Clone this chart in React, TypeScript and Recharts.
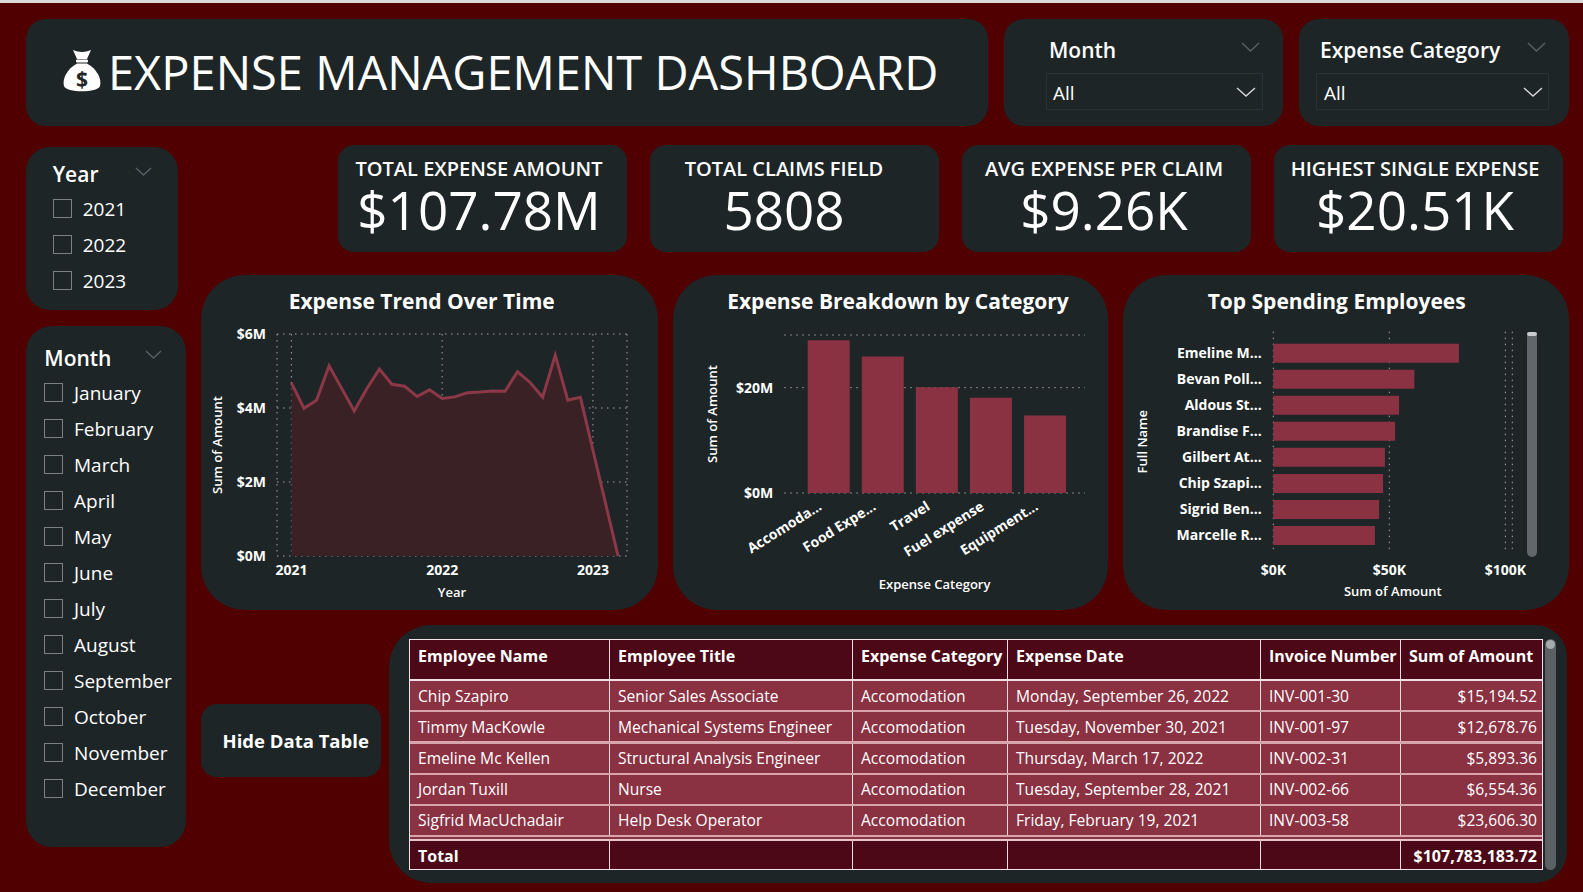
import React from 'react';
import { AreaChart, Area, BarChart, Bar, XAxis, YAxis, CartesianGrid, Label } from 'recharts';

// ---- data ----
const trendPeriods = [
  '2021-01', '2021-02', '2021-03', '2021-04', '2021-05', '2021-06',
  '2021-07', '2021-08', '2021-09', '2021-10', '2021-11', '2021-12',
  '2022-01', '2022-02', '2022-03', '2022-04', '2022-05', '2022-06',
  '2022-07', '2022-08', '2022-09', '2022-10', '2022-11', '2022-12',
  '2023-03',
];
const trendAmounts = [
  4680000, 3990000, 4210000, 5140000, 4530000, 3920000,
  4520000, 5050000, 4640000, 4590000, 4310000, 4490000,
  4260000, 4300000, 4410000, 4430000, 4460000, 4450000,
  4980000, 4690000, 4290000, 5430000, 4210000, 4290000,
  0,
];
const trendYearTicks = [2021, 2022, 2023];
const trendAmountTicks = [0, 2000000, 4000000, 6000000];

const categoryLabels = ['Accomoda...', 'Food Expe...', 'Travel', 'Fuel expense', 'Equipment...'];
const categoryAmounts = [29000000, 25900000, 20100000, 18100000, 14700000];
const categoryTicks = [0, 20000000];

const employeeLabels = [
  'Emeline M...', 'Bevan Poll...', 'Aldous St...', 'Brandise F...',
  'Gilbert At...', 'Chip Szapi...', 'Sigrid Ben...', 'Marcelle R...',
];
const employeeAmounts = [80000, 60800, 54200, 52500, 48100, 47300, 45600, 43800];
const employeeTicks = [0, 50000, 100000];

const kpiTitles = ['TOTAL EXPENSE AMOUNT', 'TOTAL CLAIMS FIELD', 'AVG EXPENSE PER CLAIM', 'HIGHEST SINGLE EXPENSE'];
const kpiValues = ['$107.78M', '5808', '$9.26K', '$20.51K'];

const yearOptions = ['2021', '2022', '2023'];
const monthOptions = [
  'January', 'February', 'March', 'April', 'May', 'June',
  'July', 'August', 'September', 'October', 'November', 'December',
];

const tableHeaders = ['Employee Name', 'Employee Title', 'Expense Category', 'Expense Date', 'Invoice Number', 'Sum of Amount'];
const tableNames = ['Chip Szapiro', 'Timmy MacKowle', 'Emeline Mc Kellen', 'Jordan Tuxill', 'Sigfrid MacUchadair'];
const tableTitles = ['Senior Sales Associate', 'Mechanical Systems Engineer', 'Structural Analysis Engineer', 'Nurse', 'Help Desk Operator'];
const tableCategories = ['Accomodation', 'Accomodation', 'Accomodation', 'Accomodation', 'Accomodation'];
const tableDates = [
  'Monday, September 26, 2022', 'Tuesday, November 30, 2021', 'Thursday, March 17, 2022',
  'Tuesday, September 28, 2021', 'Friday, February 19, 2021',
];
const tableInvoices = ['INV-001-30', 'INV-001-97', 'INV-002-31', 'INV-002-66', 'INV-003-58'];
const tableAmounts = ['$15,194.52', '$12,678.76', '$5,893.36', '$6,554.36', '$23,606.30'];
const tableTotal = '$107,783,183.72';

// ---- look ----
const BG = '#500001';
const CARD = '#1e2527';
const BAR = '#8a3142';
const LINE = '#8c3848';
const AREA = '#3a2125';
const GRID = '#a5a5a5';
const FAINT = '#596063';
const HEAD = '#4c0816';
const FONT = "'Open Sans', 'Noto Sans', sans-serif";

const trendData = trendPeriods.map((p, i) => {
  const [y, m] = p.split('-').map(Number);
  return { t: y + (m - 1) / 12, amount: trendAmounts[i] };
});
const categoryData = categoryLabels.map((name, i) => ({ name, amount: categoryAmounts[i] }));
const employeeData = employeeLabels.map((name, i) => ({ name, amount: employeeAmounts[i] }));

const tickStyle = { fill: '#ffffff', fontSize: 14, fontWeight: 700, fontFamily: FONT };
const axisTitle = { fill: '#ffffff', fontSize: 13, fontWeight: 600, fontFamily: FONT };
const millions = (v: number) => `$${v / 1000000}M`;
const thousands = (v: number) => `$${v / 1000}K`;

const Box = ({ x, y, w, h, r, children }: any) => (
  <div style={{ position: 'absolute', left: x, top: y, width: w, height: h, borderRadius: r, background: CARD }}>{children}</div>
);

const Txt = ({ x, cy, size, weight = 400, w, align = 'left', color = '#ffffff', children }: any) => (
  <div
    style={{
      position: 'absolute', left: align === 'center' ? x - w / 2 : x, top: cy - size * 0.53,
      width: w, textAlign: align, fontSize: size, fontWeight: weight, lineHeight: 1, color, whiteSpace: 'nowrap',
    }}
  >
    {children}
  </div>
);

const Chevron = ({ x, y, w, h, color }: any) => (
  <svg style={{ position: 'absolute', left: x, top: y }} width={w} height={h}>
    <polyline points={`1,1 ${w / 2},${h - 1} ${w - 1},1`} fill="none" stroke={color} strokeWidth={1.4} />
  </svg>
);

const Check = ({ x, y }: any) => (
  <div style={{ position: 'absolute', left: x, top: y, width: 19, height: 19, boxSizing: 'border-box', border: '1.5px solid #7b8083' }} />
);

const MoneyBag = () => (
  <svg style={{ position: 'absolute', left: 62, top: 49 }} width={40} height={45} viewBox="0 0 40 45">
    <path d="M11 1 Q20 5 29 1 L25 10 L15 10 Z" fill="#fff" />
    <rect x={14} y={10.5} width={12} height={3} rx={1.2} fill="#fff" />
    <path d="M15 14.5 C5 20 0 30 2 37 C4 44 36 44 38 37 C40 30 35 20 25 14.5 Z" fill="#fff" />
    <text x={20} y={38} textAnchor="middle" fontSize={21} fontWeight={700} fontFamily={FONT} fill={CARD}>$</text>
  </svg>
);

const CategoryTick = ({ x, y, payload }: any) => (
  <g transform={`translate(${x - 6},${y + 16})`}>
    <text textAnchor="end" transform="rotate(-32)" style={tickStyle} fontSize={13} fill="#ffffff">
      {payload.value}
    </text>
  </g>
);

const colWidths = [200, 243, 155, 253, 140, 144];

const Row = ({ cells, top, h, bg, bold, headerRow }: any) => (
  <div style={{ position: 'absolute', left: 0, top, height: h, display: 'flex', background: bg }}>
    {cells.map((c: string, i: number) => (
      <div
        key={i}
        style={{
          width: colWidths[i], height: h, boxSizing: 'border-box', padding: '0 8px',
          borderRight: i < cells.length - 1 ? '1.5px solid #f1dde1' : 'none',
          display: 'flex', alignItems: headerRow ? 'flex-start' : 'center',
          paddingTop: headerRow ? 5 : 0,
          justifyContent: !headerRow && i === cells.length - 1 ? 'flex-end' : 'flex-start',
          fontSize: bold ? 16 : 15.6, fontWeight: bold ? 700 : 400, color: '#fff', whiteSpace: 'nowrap',
        }}
      >
        {c}
      </div>
    ))}
  </div>
);

export default function App() {
  const kpiLefts = [338, 650, 962, 1274];
  const kpiCenters = [479, 784, 1104, 1415];
  return (
    <div style={{ position: 'relative', width: 1583, height: 892, background: BG, overflow: 'hidden', fontFamily: FONT }}>
      <style>{'body{margin:0}'}</style>
      <div style={{ position: 'absolute', left: 0, top: 0, width: 1583, height: 3, background: '#d9d9d9' }} />

      {/* header */}
      <Box x={26} y={19} w={962} h={107} r={20} />
      <MoneyBag />
      <Txt x={108} cy={73.5} size={47} weight={400}>EXPENSE MANAGEMENT DASHBOARD</Txt>

      <Box x={1004} y={19} w={279} h={107} r={20} />
      <Txt x={1049} cy={50.7} size={21} weight={600}>Month</Txt>
      <Chevron x={1241} y={42} w={19} h={10} color={FAINT} />
      <div style={{ position: 'absolute', left: 1046, top: 73, width: 217, height: 37, border: '1px solid #2b3235', boxSizing: 'border-box' }} />
      <Txt x={1053} cy={94} size={19}>All</Txt>
      <Chevron x={1236} y={87} w={20} h={10} color="#d8d8d8" />

      <Box x={1299} y={19} w={270} h={107} r={20} />
      <Txt x={1320} cy={50.7} size={21} weight={600}>Expense Category</Txt>
      <Chevron x={1527} y={42} w={19} h={10} color={FAINT} />
      <div style={{ position: 'absolute', left: 1316, top: 73, width: 233, height: 37, border: '1px solid #2b3235', boxSizing: 'border-box' }} />
      <Txt x={1324} cy={94} size={19}>All</Txt>
      <Chevron x={1523} y={87} w={20} h={10} color="#d8d8d8" />

      {/* KPI cards */}
      {kpiTitles.map((t, i) => (
        <React.Fragment key={t}>
          <Box x={kpiLefts[i]} y={145} w={289} h={107} r={16} />
          <Txt x={kpiCenters[i]} w={300} align="center" cy={170} size={20} weight={600}>{t}</Txt>
          <Txt x={kpiCenters[i]} w={300} align="center" cy={211} size={53} weight={400}>{kpiValues[i]}</Txt>
        </React.Fragment>
      ))}

      {/* year slicer */}
      <Box x={26} y={147} w={152} h={163} r={24} />
      <Txt x={52.7} cy={174.7} size={21} weight={600}>Year</Txt>
      <Chevron x={135} y={167} w={17} h={9} color={FAINT} />
      {yearOptions.map((y, i) => (
        <React.Fragment key={y}>
          <Check x={52.7} y={199 + i * 36} />
          <Txt x={82.7} cy={210 + i * 36} size={19}>{y}</Txt>
        </React.Fragment>
      ))}

      {/* month slicer */}
      <Box x={26} y={326} w={160} h={521} r={26} />
      <Txt x={44.3} cy={359} size={21} weight={600}>Month</Txt>
      <Chevron x={145} y={350} w={17} h={9} color={FAINT} />
      {monthOptions.map((m, i) => (
        <React.Fragment key={m}>
          <Check x={43.7} y={383.3 + i * 36} />
          <Txt x={74} cy={394 + i * 36} size={19}>{m}</Txt>
        </React.Fragment>
      ))}

      {/* trend card */}
      <Box x={201} y={275} w={457} h={335} r={44}>
        <AreaChart width={457} height={335} data={trendData} margin={{ top: 59, right: 31, left: 6, bottom: 4 }}>
          <CartesianGrid stroke={GRID} strokeDasharray="1.5 4.5" />
          <XAxis
            dataKey="t" type="number" domain={[2021, 2023.226]} ticks={trendYearTicks} padding={{ left: 14.4, right: 0 }}
            axisLine={false} tickLine={false} tickSize={0} tickMargin={9} tick={tickStyle} height={50}
          >
            <Label value="Year" position="insideBottom" offset={9} style={axisTitle} />
          </XAxis>
          <YAxis
            domain={[0, 6000000]} ticks={trendAmountTicks} tickFormatter={millions} width={70}
            axisLine={false} tickLine={false} tickSize={0} tickMargin={11} tick={tickStyle}
          >
            <Label value="Sum of Amount" angle={-90} position="insideLeft" offset={10.5} style={{ ...axisTitle, textAnchor: 'middle' }} />
          </YAxis>
          <Area
            type="linear" dataKey="amount" stroke={LINE} strokeWidth={3} fill={AREA} fillOpacity={1}
            dot={false} activeDot={false} isAnimationActive={false}
          />
        </AreaChart>
      </Box>
      <Txt x={421.7} w={320} align="center" cy={302} size={21} weight={700}>Expense Trend Over Time</Txt>

      {/* category card */}
      <Box x={673} y={275} w={435} h={335} r={44}>
        <BarChart width={435} height={335} data={categoryData} margin={{ top: 60, right: 23, left: 6, bottom: 4 }}>
          <CartesianGrid stroke={GRID} strokeDasharray="1.5 4.5" vertical={false} />
          <XAxis
            dataKey="name" padding={{ left: 17.4, right: 12.9 }} axisLine={false} tickLine={false}
            tickSize={0} tickMargin={0} interval={0} tick={<CategoryTick />} height={113}
          >
            <Label value="Expense Category" position="insideBottom" offset={17} style={axisTitle} />
          </XAxis>
          <YAxis
            domain={[0, 30000000]} ticks={categoryTicks} tickFormatter={millions} width={105.3}
            axisLine={false} tickLine={false} tickSize={0} tickMargin={11} tick={tickStyle}
          >
            <Label value="Sum of Amount" angle={-90} position="insideLeft" offset={33.7} style={{ ...axisTitle, textAnchor: 'middle' }} />
          </YAxis>
          <Bar dataKey="amount" fill={BAR} barSize={42} isAnimationActive={false} />
        </BarChart>
      </Box>
      <Txt x={898} w={380} align="center" cy={302} size={21} weight={700}>Expense Breakdown by Category</Txt>

      {/* employees card */}
      <Box x={1123} y={275} w={446} h={335} r={44}>
        <BarChart layout="vertical" width={446} height={335} data={employeeData} margin={{ top: 56.7, right: 56.7, left: 6, bottom: 4 }}>
          <CartesianGrid stroke={GRID} strokeDasharray="1.5 4.5" horizontal={false} />
          <XAxis
            type="number" domain={[0, 103000]} ticks={employeeTicks} tickFormatter={thousands} axisLine={false}
            tickLine={false} tickSize={0} tickMargin={13.3} tick={tickStyle} height={54.3}
          >
            <Label value="Sum of Amount" position="insideBottom" offset={10} style={axisTitle} />
          </XAxis>
          <YAxis
            type="category" dataKey="name" width={144.3} padding={{ top: 8, bottom: 3.7 }} axisLine={false}
            tickLine={false} tickSize={0} tickMargin={11.6} interval={0} tick={tickStyle}
          >
            <Label value="Full Name" angle={-90} position="insideLeft" offset={13.5} style={{ ...axisTitle, textAnchor: 'middle' }} />
          </YAxis>
          <Bar dataKey="amount" fill={BAR} barSize={19} isAnimationActive={false} />
        </BarChart>
        <div style={{ position: 'absolute', left: 404.3, top: 56.7, width: 9.4, height: 225, borderRadius: 5, background: '#61666a' }} />
        <div style={{ position: 'absolute', left: 404.3, top: 56.7, width: 9.4, height: 4, borderRadius: 3, background: '#c9cccd' }} />
      </Box>
      <Txt x={1336.7} w={360} align="center" cy={302} size={21} weight={700}>Top Spending Employees</Txt>

      {/* button */}
      <Box x={200.7} y={704.3} w={180.3} h={73} r={16} />
      <Txt x={295.7} w={180} align="center" cy={741.5} size={18.5} weight={700}>Hide Data Table</Txt>

      {/* table */}
      <div style={{ position: 'absolute', left: 389, top: 625, width: 1178, height: 258, background: CARD, borderRadius: '42px 32px 32px 42px' }} />
      <div style={{ position: 'absolute', left: 409, top: 638.7, width: 1134, height: 231.3, border: '1.5px solid #f3e3e6', boxSizing: 'border-box', overflow: 'hidden' }}>
        <Row cells={tableHeaders} top={0} h={39} bg={HEAD} bold headerRow />
        <div style={{ position: 'absolute', left: 0, top: 39, width: 1134, height: 2.5, background: '#f0e0e3' }} />
        {tableNames.map((n, i) => (
          <React.Fragment key={n}>
            <Row
              cells={[n, tableTitles[i], tableCategories[i], tableDates[i], tableInvoices[i], tableAmounts[i]]}
              top={41.5 + i * 31.2} h={29} bg={BAR}
            />
            <div style={{ position: 'absolute', left: 0, top: 41.5 + i * 31.2 + 29, width: 1134, height: 2.2, background: '#d9a5ad' }} />
          </React.Fragment>
        ))}
        <div style={{ position: 'absolute', left: 0, top: 197.5, width: 1134, height: 3, background: BAR }} />
        <div style={{ position: 'absolute', left: 0, top: 199.5, width: 1134, height: 2, background: '#e6c3c9' }} />
        <Row cells={['Total', '', '', '', '', tableTotal]} top={201.5} h={29} bg={HEAD} bold />
      </div>
      <div style={{ position: 'absolute', left: 1545, top: 639, width: 11, height: 231, borderRadius: 6, background: '#5b6064' }} />
      <div style={{ position: 'absolute', left: 1546, top: 640, width: 9, height: 9, borderRadius: 5, background: '#a7abad' }} />
    </div>
  );
}
